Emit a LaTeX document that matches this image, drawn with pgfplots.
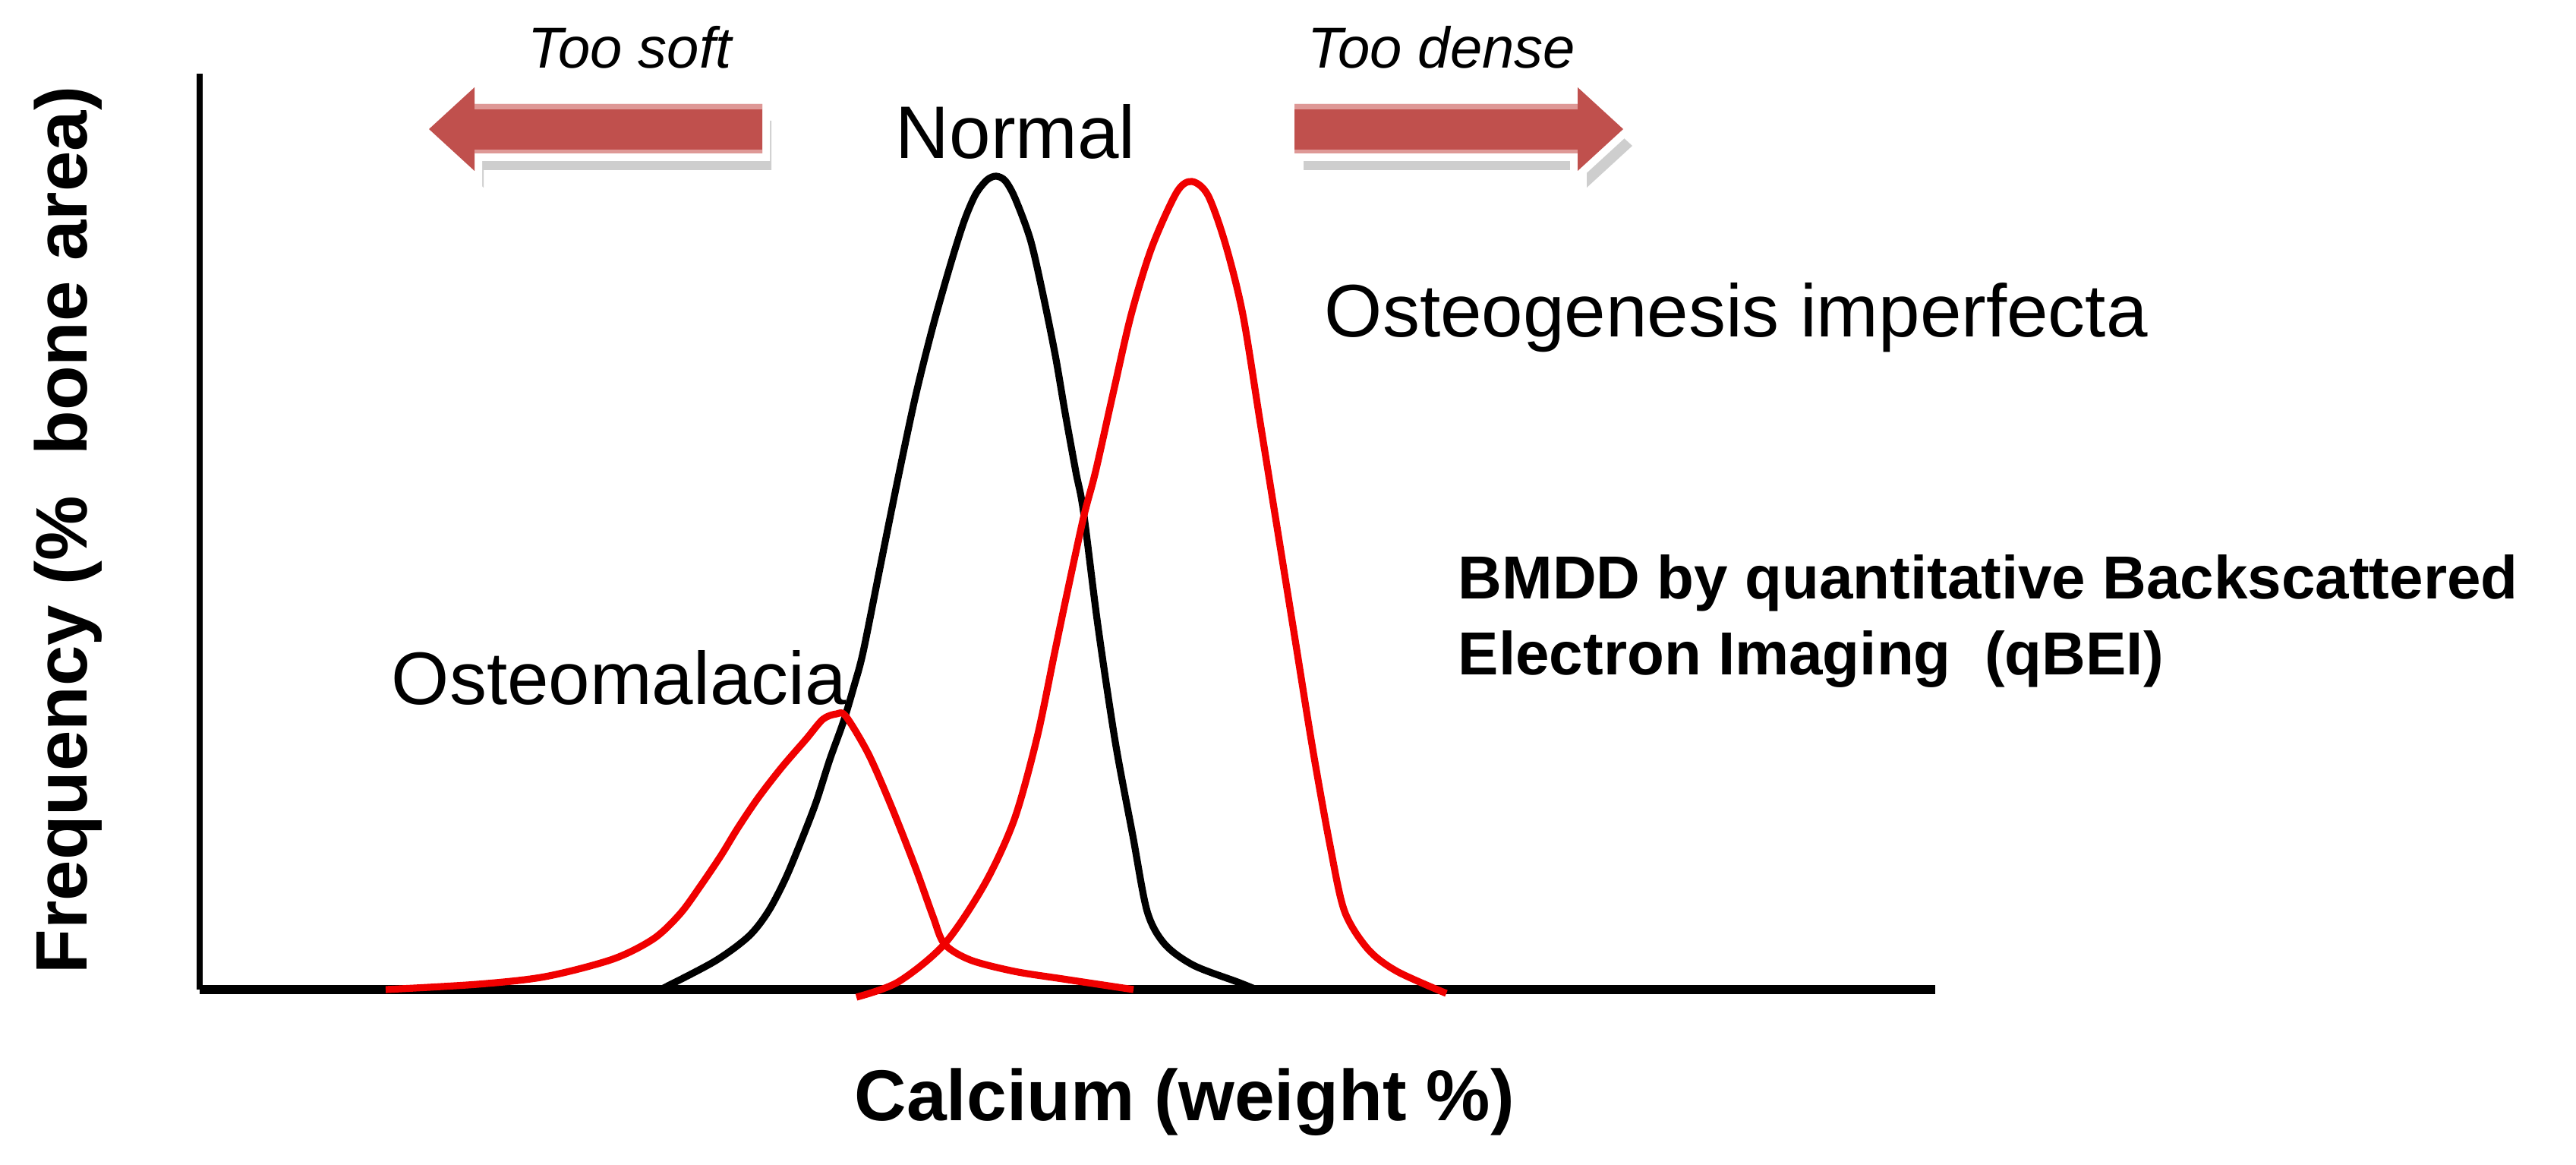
\documentclass[border=0pt]{standalone}
\usepackage{fontspec}
\setmainfont{Liberation Sans}
\usepackage{pgfplots}
\pgfplotsset{compat=1.18}
\definecolor{arrowred}{HTML}{C0504D}
\definecolor{arrowlight}{HTML}{DE9896}
\definecolor{curvered}{HTML}{F00000}

\pgfplotstableread{
x y
870 0
941 37
986 70
1012 103
1035 147
1057 200
1075 247
1093 303
1111 353
1125 400
1137 445
1160 560
1183 674
1206 782
1229 874
1252 955
1270 1012
1285 1047
1300 1066
1312 1071
1324 1065
1337 1042
1357 988
1373 919
1390 835
1403 759
1417 682
1427 630
1446 480
1469 326
1492 203
1511 103
1534 60
1572 32
1630 10
1655 0
}\normaltab

\pgfplotstableread{
x y
1128 -10
1183 10
1244 60
1297 139
1336 224
1366 332
1389 443
1403 510
1427 621
1443 682
1467 789
1490 889
1517 977
1550 1050
1570 1064
1591 1046
1614 982
1637 889
1660 746
1683 603
1706 460
1729 317
1752 189
1771 103
1802 53
1840 24
1905 -5
}\oitab

\pgfplotstableread{
x y
508 0
629 7
718 17
807 40
861 67
896 100
923 137
950 177
972 213
999 253
1030 293
1062 330
1084 356
1102 363
1114 360
1144 310
1175 239
1206 160
1229 96
1244 60
1278 39
1336 24
1400 14
1493 0
}\omtab

\begin{document}
\begin{tikzpicture}
\begin{axis}[
  scale only axis,
  width=571.5pt, height=301.5pt,
  xmin=263, xmax=2549, ymin=0, ymax=1206,
  axis x line=bottom, axis y line=left,
  x axis line style={line width=3.2pt, -},
  y axis line style={line width=2.2pt, -},
  xtick=\empty, ytick=\empty,
  clip=false,
]
% arrows (annotations)
\fill[gray!70, opacity=0.55] (axis cs:1016,1144) -- (axis cs:637,1144) -- (axis cs:637,1166) -- (axis cs:577,1111) -- (axis cs:637,1056) -- (axis cs:637,1079) -- (axis cs:1016,1079) -- cycle;
\draw[white, fill=white, line width=5pt, line join=miter] (axis cs:1004,1166) -- (axis cs:625,1166) -- (axis cs:625,1188) -- (axis cs:565,1133) -- (axis cs:625,1078) -- (axis cs:625,1101) -- (axis cs:1004,1101) -- cycle;
\fill[arrowred] (axis cs:1004,1166) -- (axis cs:625,1166) -- (axis cs:625,1188) -- (axis cs:565,1133) -- (axis cs:625,1078) -- (axis cs:625,1101) -- (axis cs:1004,1101) -- cycle;
\fill[arrowlight] (axis cs:625,1159) rectangle (axis cs:1004,1166);
\fill[arrowlight] (axis cs:625,1101) rectangle (axis cs:1004,1106);

\fill[gray!70, opacity=0.55] (axis cs:1717,1144) -- (axis cs:2090,1144) -- (axis cs:2090,1166) -- (axis cs:2150,1111) -- (axis cs:2090,1056) -- (axis cs:2090,1079) -- (axis cs:1717,1079) -- cycle;
\draw[white, fill=white, line width=5pt, line join=miter] (axis cs:1705,1166) -- (axis cs:2078,1166) -- (axis cs:2078,1188) -- (axis cs:2138,1133) -- (axis cs:2078,1078) -- (axis cs:2078,1101) -- (axis cs:1705,1101) -- cycle;
\fill[arrowred] (axis cs:1705,1166) -- (axis cs:2078,1166) -- (axis cs:2078,1188) -- (axis cs:2138,1133) -- (axis cs:2078,1078) -- (axis cs:2078,1101) -- (axis cs:1705,1101) -- cycle;
\fill[arrowlight] (axis cs:1705,1159) rectangle (axis cs:2078,1166);
\fill[arrowlight] (axis cs:1705,1101) rectangle (axis cs:2078,1106);

% curves
\addplot[smooth, black, line width=2.3pt, line join=round] table[x=x,y=y] {\normaltab};
\addplot[smooth, curvered, line width=2.3pt, line join=round] table[x=x,y=y] {\oitab};
\addplot[smooth, curvered, line width=2.3pt, line join=round] table[x=x,y=y] {\omtab};

% texts
\node[anchor=base west, inner sep=0pt, font=\fontsize{19}{22}\selectfont\itshape] at (axis cs:695,1213) {Too soft};
\node[anchor=base west, inner sep=0pt, font=\fontsize{19}{22}\selectfont\itshape] at (axis cs:1722,1213) {Too dense};
\node[anchor=base west, inner sep=0pt, font=\fontsize{24.5}{28}\selectfont] at (axis cs:1179,1095) {Normal};
\node[anchor=base west, inner sep=0pt, font=\fontsize{24.5}{28}\selectfont] at (axis cs:1744,860) {Osteogenesis imperfecta};
\node[anchor=base west, inner sep=0pt, font=\fontsize{24.5}{28}\selectfont] at (axis cs:515,376) {Osteomalacia};
\node[anchor=base west, inner sep=0pt, font=\fontsize{20}{24}\selectfont\bfseries] at (axis cs:1920,515) {BMDD by quantitative Backscattered};
\node[anchor=base west, inner sep=0pt, font=\fontsize{20}{24}\selectfont\bfseries] at (axis cs:1920,415) {Electron Imaging \ (qBEI)};
\node[anchor=base west, inner sep=0pt, font=\fontsize{23.7}{28}\selectfont\bfseries] at (axis cs:1125,-172) {Calcium (weight \%)};
\node[anchor=base, rotate=90, inner sep=0pt, font=\fontsize{24}{28}\selectfont\bfseries] at (axis cs:115,605) {Frequency (\% \ bone area)};

\coordinate (bl) at (axis cs:0,-230);
\coordinate (tr) at (axis cs:3393,1303);
\end{axis}
\pgfresetboundingbox
\path[use as bounding box] (bl) rectangle (tr);
\end{tikzpicture}
\end{document}
